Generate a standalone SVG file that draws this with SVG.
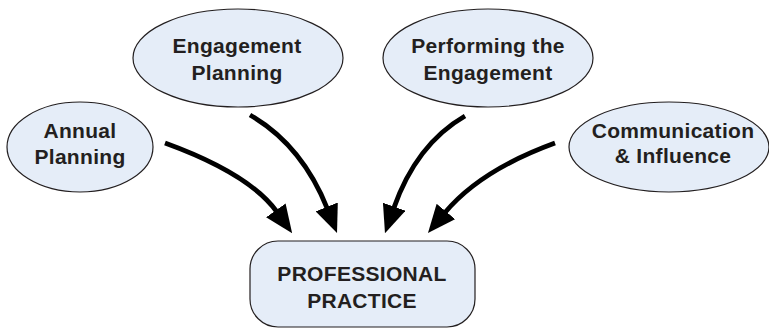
<svg xmlns="http://www.w3.org/2000/svg" width="769" height="330" viewBox="0 0 769 330">
<style>
.node{fill:#e5edf8;stroke:#231f20;stroke-width:1.2}
.lbl{font-family:"Liberation Sans",Arial,Helvetica,sans-serif;font-weight:bold;font-size:21px;letter-spacing:0.3px;fill:#231f20;text-anchor:middle}
.arr{fill:none;stroke:#000;stroke-width:4.8;marker-end:url(#head)}
</style>
<defs>
<marker id="head" markerUnits="userSpaceOnUse" markerWidth="28" markerHeight="24" viewBox="0 0 28 24" refX="2" refY="12" orient="auto">
<path d="M0,0 L28,12 L0,24 z" fill="#000"/>
</marker>
</defs>
<rect width="769" height="330" fill="#fff"/>
<g id="connectors">
<path class="arr" d="M165,143 Q249.6,173.8 277,212"/>
<path class="arr" d="M250,115 Q302,145 327.4,208.8"/>
<path class="arr" d="M465,116 Q416.2,144.2 393.6,208.6"/>
<path class="arr" d="M555,143 Q480.1,170.3 444.6,213"/>
</g>
<g id="annual-planning">
<ellipse class="node" cx="80" cy="147" rx="73" ry="45"/>
<text class="lbl" x="80" y="138">Annual</text>
<text class="lbl" x="80" y="164">Planning</text>
</g>
<g id="engagement-planning">
<ellipse class="node" cx="238" cy="58" rx="105" ry="49"/>
<text class="lbl" x="237" y="53">Engagement</text>
<text class="lbl" x="237" y="80">Planning</text>
</g>
<g id="performing-the-engagement">
<ellipse class="node" cx="488" cy="58" rx="105" ry="49"/>
<text class="lbl" x="488" y="53">Performing the</text>
<text class="lbl" x="488" y="80">Engagement</text>
</g>
<g id="communication-influence">
<ellipse class="node" cx="669" cy="147" rx="100" ry="45"/>
<text class="lbl" x="673" y="138">Communication</text>
<text class="lbl" x="673" y="163">&amp; Influence</text>
</g>
<g id="professional-practice">
<rect class="node" x="250" y="241" width="225" height="86" rx="28" ry="28"/>
<text class="lbl" x="362" y="281">PROFESSIONAL</text>
<text class="lbl" x="362" y="308">PRACTICE</text>
</g>
</svg>
